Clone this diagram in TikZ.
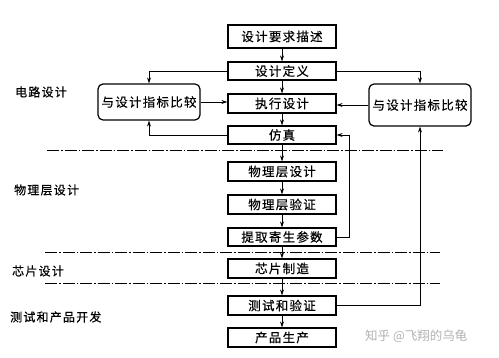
\documentclass[tikz,border=0pt]{standalone}
\usepackage{fontspec}
\newfontfamily\cjk[LetterSpace=10,FakeBold=0.4]{Noto Sans CJK SC}
\newfontfamily\cjkwm{Noto Sans CJK SC}
\usetikzlibrary{arrows.meta}
\begin{document}
\begin{tikzpicture}[x=1pt,y=-1pt,
  mainbox/.style={draw,line width=1.2pt,minimum width=108pt,inner sep=0pt,font=\cjk\fontsize{12.5}{13}\selectfont},
  cmpbox/.style={draw,line width=1.2pt,rounded corners=5pt,minimum width=102pt,inner sep=0pt,font=\cjk\fontsize{12.5}{13}\selectfont},
  sidelabel/.style={anchor=west,inner sep=0pt,font=\cjk\fontsize{12}{13}\selectfont},
  conn/.style={line width=0.7pt,-{Stealth[length=6pt,width=4pt]}},
  sep/.style={line width=0.8pt,dash pattern=on 12pt off 2pt on 1.5pt off 2pt}]
\useasboundingbox (0,0) rectangle (499,358);
\fill[white] (0,0) rectangle (499,358);
% main column
\node[mainbox,minimum height=23pt] (b1) at (282,36.5) {设计要求描述};
\node[mainbox,minimum height=18pt] (b2) at (282,71) {设计定义};
\node[mainbox,minimum height=19pt] (b3) at (282,103.5) {执行设计};
\node[mainbox,minimum height=18pt] (b4) at (282,135) {仿真};
\node[mainbox,minimum height=19pt] (b5) at (282,171.5) {物理层设计};
\node[mainbox,minimum height=19pt] (b6) at (282,204.5) {物理层验证};
\node[mainbox,minimum height=18pt] (b7) at (282,237) {提取寄生参数};
\node[mainbox,minimum height=19pt] (b8) at (282,268.5) {芯片制造};
\node[mainbox,minimum height=19pt] (b9) at (282,305.5) {测试和验证};
\node[mainbox,minimum height=19pt] (b10) at (282,337.5) {产品生产};
% compare boxes
\node[cmpbox,minimum height=36pt] (L) at (149,102) {与设计指标比较};
\node[cmpbox,minimum height=42pt] (R) at (420,105) {与设计指标比较};
% separators
\coordinate (s1a) at (47,150); \coordinate (s1b) at (443,150);
\coordinate (s2a) at (45,252); \coordinate (s2b) at (440,252);
\coordinate (s3a) at (45,283); \coordinate (s3b) at (440,283);
\draw[sep] (s1a) -- (s1b);
\draw[sep] (s2a) -- (s2b);
\draw[sep] (s3a) -- (s3b);
% side labels
\node[sidelabel] (l1) at (15,92) {电路设计};
\node[sidelabel] (l2) at (14,190) {物理层设计};
\node[sidelabel] (l3) at (12,271) {芯片设计};
\node[sidelabel] (l4) at (10,317) {测试和产品开发};
% main flow
\foreach \a/\b in {b1/b2,b2/b3,b3/b4,b4/b5,b5/b6,b6/b7,b7/b8,b8/b9,b9/b10}
  \draw[conn] (\a) -- (\b);
% feedback
\draw[conn] (b2.west) -| (L.north);
\draw[conn] (L.east) -- (L.east -| b3.west);
\draw[conn] (b4.west) -| (L.south);
\draw[conn] (b2.east) -| (R.north);
\draw[conn] (R.west) -- (R.west -| b3.east);
\coordinate (k) at (349,237);
\draw[conn] (b7.east) -- (k) |- (b4.east);
\draw[conn] (b9.east) -| (R.south);
% watermark
\node[anchor=west,inner sep=0pt,text=black!30,font=\cjkwm\fontsize{12.5}{13}\selectfont] (wm) at (365,336) {知乎 @飞翔的乌龟};
\end{tikzpicture}
\end{document}
